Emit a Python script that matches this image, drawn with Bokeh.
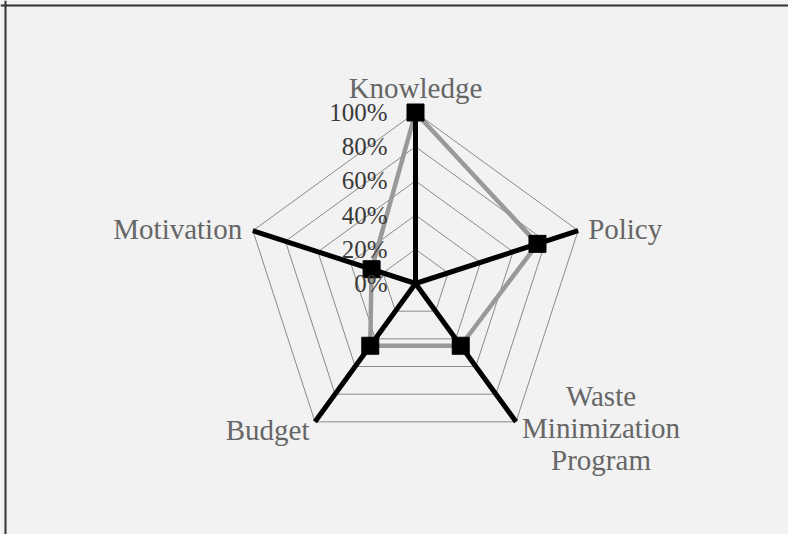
import numpy as np
from bokeh.plotting import figure
from bokeh.models import Range1d, Span
from bokeh.core.properties import value
from bokeh.embed import file_html
from bokeh.resources import INLINE

# ---- data ----
categories = ["Knowledge", "Policy", "Waste\nMinimization\nProgram", "Budget", "Motivation"]
scores = [100, 75, 45, 45, 27]          # percent
tick_values = [0, 20, 40, 60, 80, 100]
tick_labels = ["0%", "20%", "40%", "60%", "80%", "100%"]

# ---- layout constants (pixels, figure coordinates) ----
W, H = 788, 534
CX, CY = 415, 283          # centre of radar
S = 1.71                   # pixels per percent
FONT = "Liberation Serif"

def to_data(px, py):
    return (px - CX) / S, (CY - py) / S

n = len(categories)
angles = np.pi / 2 - 2 * np.pi * np.arange(n) / n   # clockwise from top

def polar(r):
    r = np.asarray(r, dtype=float)
    return r * np.cos(angles), r * np.sin(angles)

x0, y1 = to_data(0, 0)
x1, y0 = to_data(W, H)

p = figure(width=W, height=H, x_range=Range1d(x0, x1), y_range=Range1d(y0, y1),
           output_backend="svg", toolbar_location=None, min_border=0,
           x_axis_location=None, y_axis_location=None,
           background_fill_color="#f2f2f2", border_fill_color="#f2f2f2",
           outline_line_color=None)
p.grid.visible = False

# grid pentagons
for t in tick_values[1:]:
    gx, gy = polar([t] * n)
    p.line(list(gx) + [gx[0]], list(gy) + [gy[0]], line_color="#8a8a8a", line_width=1)

# data series (gray)
sx, sy = polar(scores)
p.line(list(sx) + [sx[0]], list(sy) + [sy[0]], line_color="#999999", line_width=4.5)

# spokes (black thick)
vx, vy = polar([tick_values[-1]] * n)
p.multi_line([[0, vx[i]] for i in range(n)], [[0, vy[i]] for i in range(n)],
             line_color="black", line_width=5)

# markers
p.scatter(sx, sy, marker="square", size=17, fill_color="black", line_color="black")

# tick labels along the first axis
tx = [to_data(CX - 28, 0)[0]] * len(tick_values)
p.text(tx, tick_values, text=tick_labels, text_font=value(FONT), text_font_size="25px",
       text_color="#3a3a3a", text_align="right", text_baseline="middle")

# category labels (pixel offsets from each 100% vertex)
offsets = [(0, -25), (10, -2), (85, 6), (-5.5, 8.5), (-10.7, -2)]
aligns = ["center", "left", "center", "right", "right"]
baselines = ["alphabetic", "alphabetic", "middle", "alphabetic", "alphabetic"]
for i in range(n):
    ox, oy = offsets[i]
    lx = vx[i] + ox / S
    ly = vy[i] - oy / S
    p.text([lx], [ly], text=[categories[i]], text_font=value(FONT), text_font_size="29px",
           text_color="#666666", text_align=aligns[i], text_baseline=baselines[i],
           text_line_height=1.0)

# frame border (top and left)
bx, by = to_data(5, 5)
p.add_layout(Span(location=bx, dimension="height", line_color="#333333", line_width=2))
p.add_layout(Span(location=by, dimension="width", line_color="#333333", line_width=2))

open("out.html", "w").write(file_html(p, INLINE))
